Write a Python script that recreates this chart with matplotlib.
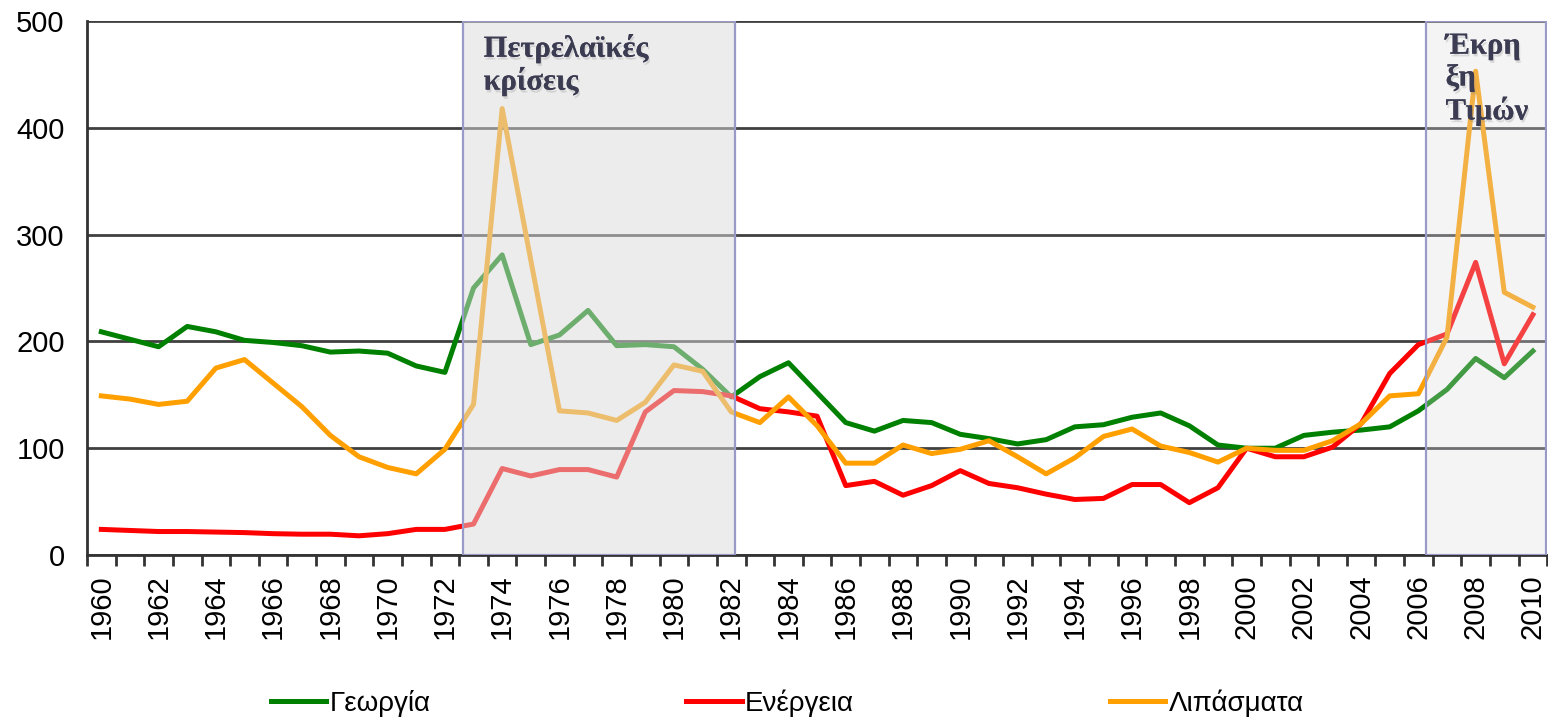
import numpy as np
import matplotlib
matplotlib.use('Agg')
import matplotlib.pyplot as plt
import matplotlib.patheffects as pe

plt.rcParams['font.family'] = ['Liberation Sans', 'DejaVu Sans']

# Данные
years = list(range(1960, 2011))
georgia = [209, 202, 195, 214, 209, 201, 199, 196, 190, 191,
           189, 177, 171, 250, 281, 197, 206, 229, 196, 197,
           195, 174, 148, 167, 180, 152, 124, 116, 126, 124,
           113, 109, 104, 108, 120, 122, 129, 133, 121, 103,
           100, 100, 112, 115, 117, 120, 135, 155, 184, 166, 191]
energeia = [24, 23, 22, 22, 21.5, 21, 20, 19.5, 19.5, 18,
            20, 24, 24, 29, 81, 74, 80, 80, 73, 134,
            154, 153, 149, 137, 134, 130, 65, 69, 56, 65,
            79, 67, 63, 57, 52, 53, 66, 66, 49, 63,
            100, 92, 92, 101, 123, 170, 197, 207, 274, 179, 225]
lipasmata = [149, 146, 141, 144, 175, 183, 161, 139, 112, 92,
             82, 76, 99, 141, 418, 276, 135, 133, 126, 143,
             178, 172, 134, 124, 148, 121, 86, 86, 103, 95,
             99, 107, 92, 76, 91, 111, 118, 102, 96, 87,
             100, 98, 98, 107, 123, 149, 151, 204, 453, 246, 232]
labels = ['Γεωργία', 'Ενέργεια', 'Λιπάσματα']
colors = ['#008000', '#ff0000', '#ffa000']

fig = plt.figure(figsize=(15.48, 7.21), dpi=100)
ax = fig.add_axes([0.0562, 0.2302, 0.9433, 0.7407])

for vals, lab, col in zip([georgia, energeia, lipasmata], labels, colors):
    ax.plot(years, vals, color=col, linewidth=3.6, label=lab, zorder=3)

# Затенённые периоды
ax.axvspan(1972.62, 1982.12, facecolor=(0.86, 0.86, 0.86, 0.5),
           edgecolor='#9a9ac8', linewidth=1.6, zorder=4)
ax.axvspan(2006.27, 2010.45, facecolor=(0.86, 0.86, 0.88, 0.3),
           edgecolor='#9a9ac8', linewidth=1.6, zorder=4)

shadow = [pe.withSimplePatchShadow(offset=(1, -2), shadow_rgbFace='#888888', alpha=0.25), pe.Normal()]
ax.text(1973.35, 489, 'Πετρελαϊκές\nκρίσεις', fontsize=22, fontweight='bold',
        family=['Liberation Serif', 'DejaVu Serif'], color='#3b3b52', va='top',
        linespacing=1.08, zorder=6, path_effects=shadow)
ax.text(2006.95, 490, 'Έκρη\nξη\nΤιμών', fontsize=22, fontweight='bold',
        family=['Liberation Serif', 'DejaVu Serif'], color='#3b3b52', va='top',
        linespacing=1.12, zorder=6, path_effects=shadow)

ax.set_xlim(1959.5, 2010.5)
ax.set_ylim(0, 500)
ax.set_yticks(range(0, 501, 100))
ax.set_xticks(range(1960, 2011, 2))
ax.set_xticks(np.arange(1959.5, 2011, 1), minor=True)
ax.tick_params(axis='x', which='major', length=0, pad=14, labelsize=21, labelrotation=90)
ax.tick_params(axis='x', which='minor', length=8, width=2, color='#333333')
ax.tick_params(axis='y', length=0, pad=16, labelsize=21)

ax.grid(axis='y', color='#404040', linewidth=2, zorder=1)
ax.set_axisbelow(True)
for s in ['top', 'right']:
    ax.spines[s].set_visible(False)
for s in ['left', 'bottom']:
    ax.spines[s].set_color('#333333')
    ax.spines[s].set_linewidth(2)

fig.legend(loc='center left', bbox_to_anchor=(0.175, 0.025), ncol=3, frameon=False,
           fontsize=20, handlelength=2.0, handletextpad=0.12, columnspacing=9.2,
           borderpad=0, borderaxespad=0)

fig.savefig('out.png', dpi=100)
